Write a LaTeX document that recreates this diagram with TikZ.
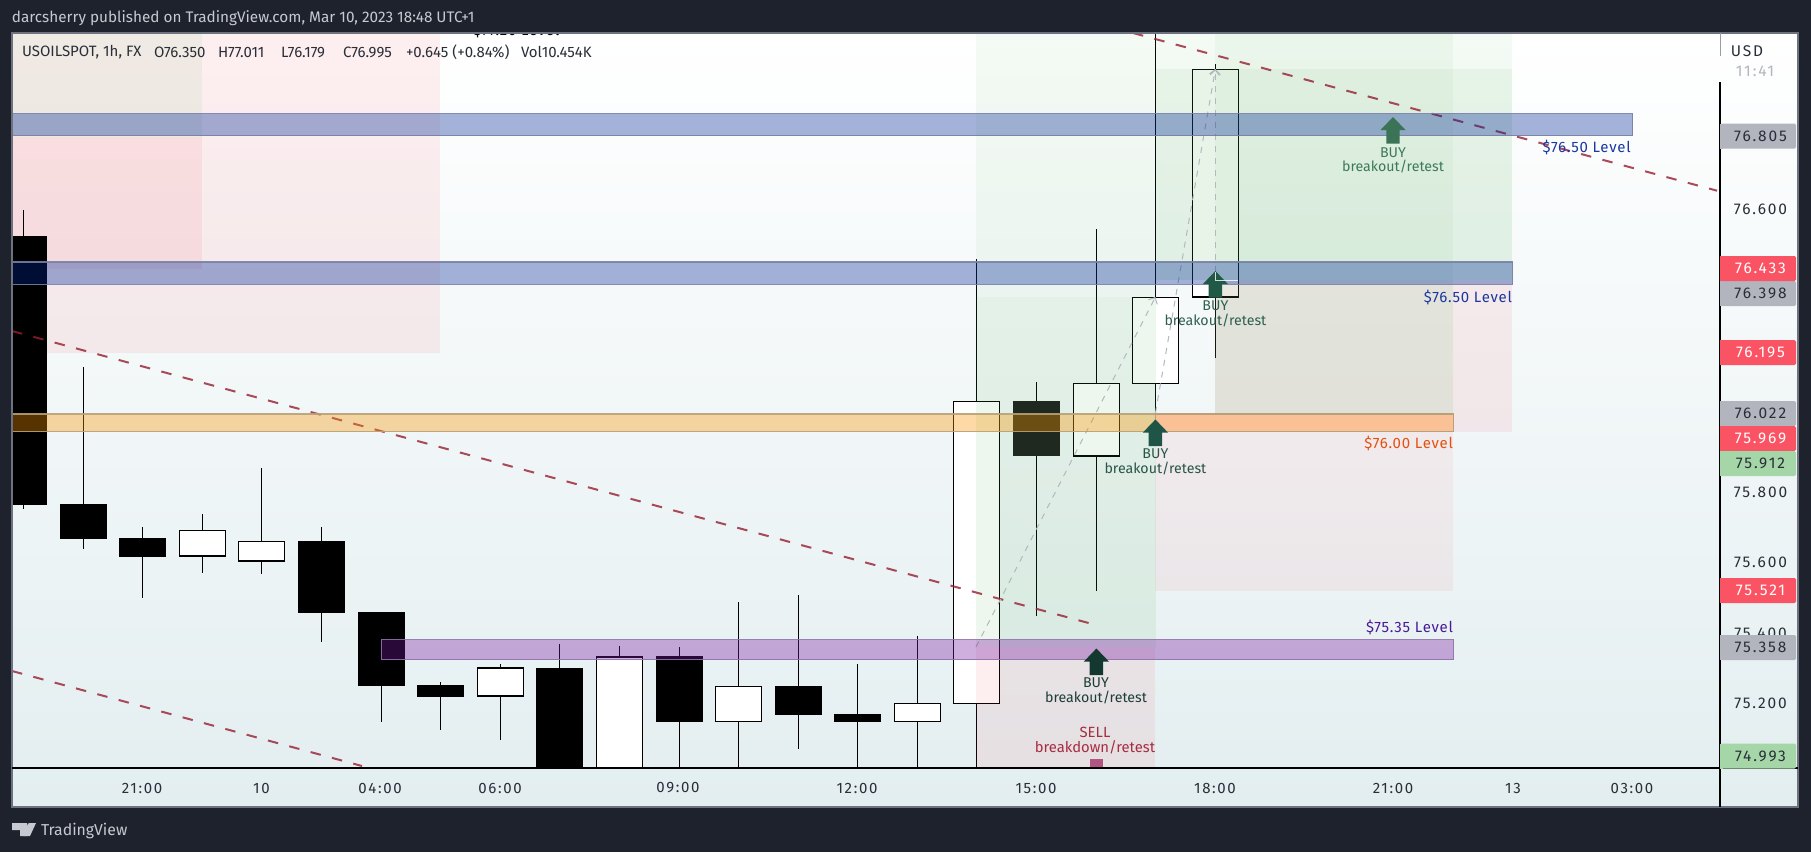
\documentclass[tikz,border=0pt]{standalone}
\usepackage{fontspec}
\usetikzlibrary{arrows.meta}
\setmainfont{Fira Sans}
\definecolor{tvdark}{RGB}{30,34,45}
\definecolor{bgbot}{RGB}{227,238,240}
\definecolor{framec}{RGB}{110,114,126}
\definecolor{hdr}{RGB}{198,201,207}
\definecolor{ink}{RGB}{42,46,57}
\definecolor{tvpink}{RGB}{242,54,69}
\definecolor{tvgreen}{RGB}{76,175,80}
\definecolor{bandblue}{RGB}{0,40,150}
\definecolor{bandorange}{RGB}{248,148,0}
\definecolor{bandpurple}{RGB}{120,26,160}
\definecolor{edgeblue}{RGB}{120,128,165}
\definecolor{edgeorange}{RGB}{185,160,120}
\definecolor{edgepurple}{RGB}{145,115,170}
\definecolor{hotorange}{RGB}{250,192,150}
\definecolor{trend}{RGB}{150,30,50}
\definecolor{dashgray}{RGB}{178,184,190}
\definecolor{lblblue}{RGB}{28,56,160}
\definecolor{lblorange}{RGB}{230,80,15}
\definecolor{lblpurple}{RGB}{74,26,150}
\definecolor{axred}{RGB}{250,84,100}
\definecolor{axgray}{RGB}{178,181,190}
\definecolor{axgreen}{RGB}{165,214,167}
\definecolor{sellred}{RGB}{165,45,64}
\definecolor{sellsq}{RGB}{176,86,128}
\definecolor{darkbody}{RGB}{28,28,27}
\definecolor{arrowa}{RGB}{58,115,85}
\definecolor{arrowb}{RGB}{32,90,70}
\definecolor{arrowc}{RGB}{30,85,70}
\definecolor{arrowd}{RGB}{19,56,48}
\definecolor{texta}{RGB}{60,122,88}
\definecolor{textb}{RGB}{47,95,80}
\definecolor{textc}{RGB}{40,85,72}
\definecolor{textd}{RGB}{28,62,55}
\tikzset{
  x=1pt,y=-1pt,
  wickline/.style={draw=black,line width=1.3pt},
  bodybox/.style={draw=black,line width=1.5pt,line join=miter},
  pinkz/.style={fill=tvpink,fill opacity=#1,draw=none},
  greenz/.style={fill=tvgreen,fill opacity=#1,draw=none},
  trendline/.style={draw=trend,draw opacity=.8,line width=2pt,dash pattern=on 10.5pt off 11.6pt},
  gdash/.style={draw=dashgray,line width=1pt,dash pattern=on 6pt off 6pt},
  band/.style 2 args={fill=#1,fill opacity=.35,draw=#2,draw opacity=.9,line width=1.2pt},
  txt/.style={inner sep=0pt,outer sep=0pt,font=\fontsize{#1}{#1}\selectfont},
  txts/.style 2 args={inner sep=0pt,outer sep=0pt,font=\fontsize{#1}{#1}\selectfont\addfontfeature{LetterSpace=#2}},
  timelbl/.style={txts={15}{11},text=ink,anchor=center},
  pricelbl/.style={txts={15.5}{12},text=ink,anchor=center},
  levellbl/.style={txts={15}{5},anchor=east},
  siglbl/.style={inner sep=0pt,align=center,font=\fontsize{14.2}{14.6}\selectfont},
  selllbl/.style={inner sep=0pt,align=center,font=\fontsize{14.8}{15}\selectfont},
  symlbl/.style={txt=15,text=ink,anchor=west},
}
\newcommand{\cndl}[5]{% x top bot wicktop wickbot: white
  \draw[wickline] (#1,#4) -- (#1,#5);
  \filldraw[bodybox,fill=white] (#1-23,#2) rectangle (#1+23,#3);
}
\newcommand{\cndb}[5]{% x top bot wicktop wickbot: black
  \draw[wickline] (#1,#4) -- (#1,#5);
  \fill[black] (#1-23.5,#2) rectangle (#1+23.5,#3);
}
\newcommand{\buyarrow}[3]{%
  \fill[#3] (#1,#2) -- (#1+12.5,#2+13) -- (#1+6.7,#2+13) -- (#1+6.7,#2+26.5) -- (#1-6.7,#2+26.5) -- (#1-6.7,#2+13) -- (#1-12.5,#2+13) -- cycle;
}
\newcommand{\axbox}[5]{% name, centre y, colour, text colour, label
  \fill[#3,rounded corners=1.5pt] (1720,#2-12.5) -- (1796,#2-12.5) -- (1796,#2+12.5) -- (1720,#2+12.5) -- cycle;
  \fill[#3] (1720,#2-12.5) rectangle (1723,#2+12.5);
  \node[pricelbl,text=#4] (#1) at (1760.5,#2) {#5};
}
\begin{document}
\begin{tikzpicture}
\useasboundingbox (0,0) rectangle (1811,852);
\fill[tvdark] (0,0) rectangle (1811,852);
% chart background
\shade[top color=white,bottom color=bgbot] (12,33) rectangle (1798,807);
\begin{scope}
\clip (12,33) rectangle (1720,768);
% clipped level text
\node[txts={15}{5},text=black,anchor=center] (lvl77) at (516.5,30) {\$77.20 Level};
% pink short-position overlays under the candles
\fill[pinkz=.08] (12,33) rectangle (440,353);
\fill[pinkz=.08] (12,136.5) rectangle (202,269);
\fill[greenz=.07] (12,33) rectangle (202,136.5);
% candles
\draw[wickline] (23.3,210) -- (23.3,509);
\fill[black] (12,236) rectangle (47,505);
\cndb{83.3}{504}{539}{367}{549}
\cndb{142.4}{538}{557}{527}{598}
\cndl{202.4}{530.5}{556}{514}{573}
\cndl{261.4}{541.5}{561}{468}{574}
\cndb{321.4}{541}{613}{527}{642}
\cndb{381.4}{612}{686}{612}{722}
\cndb{440.4}{685}{697}{682}{730}
\cndl{500.4}{668}{696}{664}{740}
\cndb{559.3}{668}{770}{644}{770}
\cndl{619.3}{657}{770}{646}{770}
\cndb{679.3}{656}{722}{647}{770}
\cndl{738.3}{686.5}{721.5}{602}{770}
\cndb{798.3}{686}{715}{595}{749}
\cndb{857.3}{714}{722}{664}{770}
\cndl{917.3}{703.5}{721.5}{636}{770}
\cndl{976.5}{401.5}{703.5}{259}{770}
\draw[wickline] (1036.4,382) -- (1036.4,616);
\fill[darkbody] (1012.9,401) rectangle (1059.9,456);
\cndl{1096.4}{383.5}{456}{229}{591}
\cndl{1155.4}{297.5}{383.5}{20}{414}
\cndl{1215.4}{69.5}{297}{64}{358}
% position overlays
\fill[greenz=.06] (976,33) rectangle (1156,647);
\fill[greenz=.04] (976,297) rectangle (1156,647);
\fill[pinkz=.08] (976,647) rectangle (1155,768);
\fill[greenz=.06] (1156,33) rectangle (1512,280);
\fill[greenz=.07] (1156,69) rectangle (1512,280);
\fill[greenz=.05] (1215,33) rectangle (1453,280);
\fill[pinkz=.08] (1215,280) rectangle (1512,432);
\fill[greenz=.10] (1215,280) rectangle (1453,432);
\fill[pinkz=.06] (1155,413) rectangle (1453,591);
% trend lines
\coordinate (ta) at (12,331); \coordinate (tb) at (1096,625);
\coordinate (tc) at (12,671); \coordinate (td) at (362,766);
\coordinate (te) at (1133,33); \coordinate (tf) at (1717,190.7);
\draw[trendline] (ta) -- (tb);
\draw[trendline] (tc) -- (td);
\draw[trendline] (te) -- (tf);
% position tool dashed paths
\coordinate (pa) at (976,647); \coordinate (pb) at (1155.4,297);
\coordinate (pc) at (1155.4,413); \coordinate (pd) at (1215.4,69);
\coordinate (pe) at (1215.4,272);
\draw[gdash,-{Straight Barb[length=5pt,width=10pt]}] (pa) -- (pb);
\draw[gdash,-{Straight Barb[length=5pt,width=10pt]}] (pc) -- (pd);
\draw[gdash,-{Straight Barb[length=5pt,width=10pt]}] (pe) -- (pd);
% level bands
\filldraw[band={bandblue}{edgeblue}] (12,113.5) rectangle (1632.7,135.7);
\filldraw[band={bandblue}{edgeblue}] (12,262) rectangle (1512.7,284.3);
\filldraw[band={bandorange}{edgeorange}] (12,414) rectangle (1453.6,431.7);
\filldraw[fill=hotorange,draw=edgeorange,line width=1.2pt] (1155.4,414) rectangle (1453.6,431.7);
\filldraw[band={bandpurple}{edgepurple}] (381.4,639.5) rectangle (1453.6,659.7);
% signals
\buyarrow{1393}{117}{arrowa}
\buyarrow{1215.4}{271}{arrowb}
\buyarrow{1155.4}{419.5}{arrowc}
\buyarrow{1096.4}{648.5}{arrowd}
\draw[white,opacity=.8,line width=.9pt] (1215.4,272) -- (1215.4,280) -- (1238,280);
\fill[sellsq] (1090,759) rectangle (1103,768);
% level labels
\node[levellbl,text=lblblue] (lv1) at (1630.7,147.7) {\$76.50 Level};
\node[levellbl,text=lblblue] (lv2) at (1512,297) {\$76.50 Level};
\node[levellbl,text=lblorange] (lv3) at (1453,443) {\$76.00 Level};
\node[levellbl,text=lblpurple] (lv4) at (1453,627) {\$75.35 Level};
% signal labels
\node[siglbl,text=texta] (s1) at (1393,160.2) {BUY\\breakout/retest};
\node[siglbl,text=textb] (s2) at (1215.4,314) {BUY\\breakout/retest};
\node[siglbl,text=textc] (s3) at (1155.4,462) {BUY\\breakout/retest};
\node[siglbl,text=textd] (s4) at (1096,691) {BUY\\breakout/retest};
\node[selllbl,text=sellred] (s5) at (1095,740.2) {SELL\\breakdown/retest};
\end{scope}
% axes
\draw[framec,line width=1.2pt] (12,33) rectangle (1798,807);
\draw[black,line width=1.3pt] (12,768) -- (1798,768);
\draw[black,line width=1.3pt] (1720,82) -- (1720,807);
\draw[framec!70,line width=1pt] (1720,33) -- (1720,56);
% header
\node[txt=15.3,text=hdr,anchor=west] (head) at (12,18) {darcsherry published on TradingView.com, Mar 10, 2023 18:48 UTC+1};
\node[symlbl] (sy0) at (22,52) {USOILSPOT, 1h, FX};
\node[symlbl] (sy1) at (154,52) {O76.350};
\node[symlbl] (sy2) at (218,52) {H77.011};
\node[symlbl] (sy3) at (281,52) {L76.179};
\node[symlbl] (sy4) at (343,52) {C76.995};
\node[symlbl] (sy5) at (406,52) {+0.645 (+0.84\%)};
\node[symlbl] (sy6) at (521,52) {Vol10.454K};
% price axis
\node[pricelbl] (usd) at (1747,51) {USD};
\node[pricelbl,text=axgray] (cd) at (1755,71) {11:41};
\node[pricelbl] (p1) at (1760.5,209) {76.600};
\node[pricelbl] (p2) at (1760.5,492) {75.800};
\node[pricelbl] (p3) at (1760.5,562) {75.600};
\node[pricelbl] (p4) at (1760.5,633) {75.400};
\node[pricelbl] (p5) at (1760.5,703) {75.200};
\axbox{b1}{136}{axgray}{ink}{76.805}
\axbox{b3}{293.5}{axgray}{ink}{76.398}
\axbox{b2}{268.5}{axred}{white}{76.433}
\axbox{b4}{352.6}{axred}{white}{76.195}
\axbox{b5}{413.5}{axgray}{ink}{76.022}
\axbox{b6}{438.7}{axred}{white}{75.969}
\axbox{b7}{463.7}{axgreen}{ink}{75.912}
\axbox{b8}{590.5}{axred}{white}{75.521}
\axbox{b9}{647.5}{axgray}{ink}{75.358}
\axbox{b10}{756}{axgreen}{ink}{74.993}
% time axis
\node[timelbl] (t1) at (142,788) {21:00};
\node[timelbl] (t2) at (261.4,788) {10};
\node[timelbl] (t3) at (380,788) {04:00};
\node[timelbl] (t4) at (500,788) {06:00};
\node[timelbl] (t5) at (678,788) {09:00};
\node[timelbl] (t6) at (857,788) {12:00};
\node[timelbl] (t7) at (1036,788) {15:00};
\node[timelbl] (t8) at (1215,788) {18:00};
\node[timelbl] (t9) at (1393,788) {21:00};
\node[timelbl] (t10) at (1513,788) {13};
\node[timelbl] (t11) at (1632,788) {03:00};
% footer logo
\fill[hdr] (12,823) -- (27,823) -- (27,836) -- (20,836) -- (20,830) -- (12,830) -- cycle;
\fill[hdr] (30,826) circle (3);
\fill[hdr] (30,836) -- (36,823) -- (29,823) -- (23,836) -- cycle;
\node[txt=15.8,text=hdr,anchor=west] (tvlogo) at (41,830.7) {TradingView};
\end{tikzpicture}
\end{document}
